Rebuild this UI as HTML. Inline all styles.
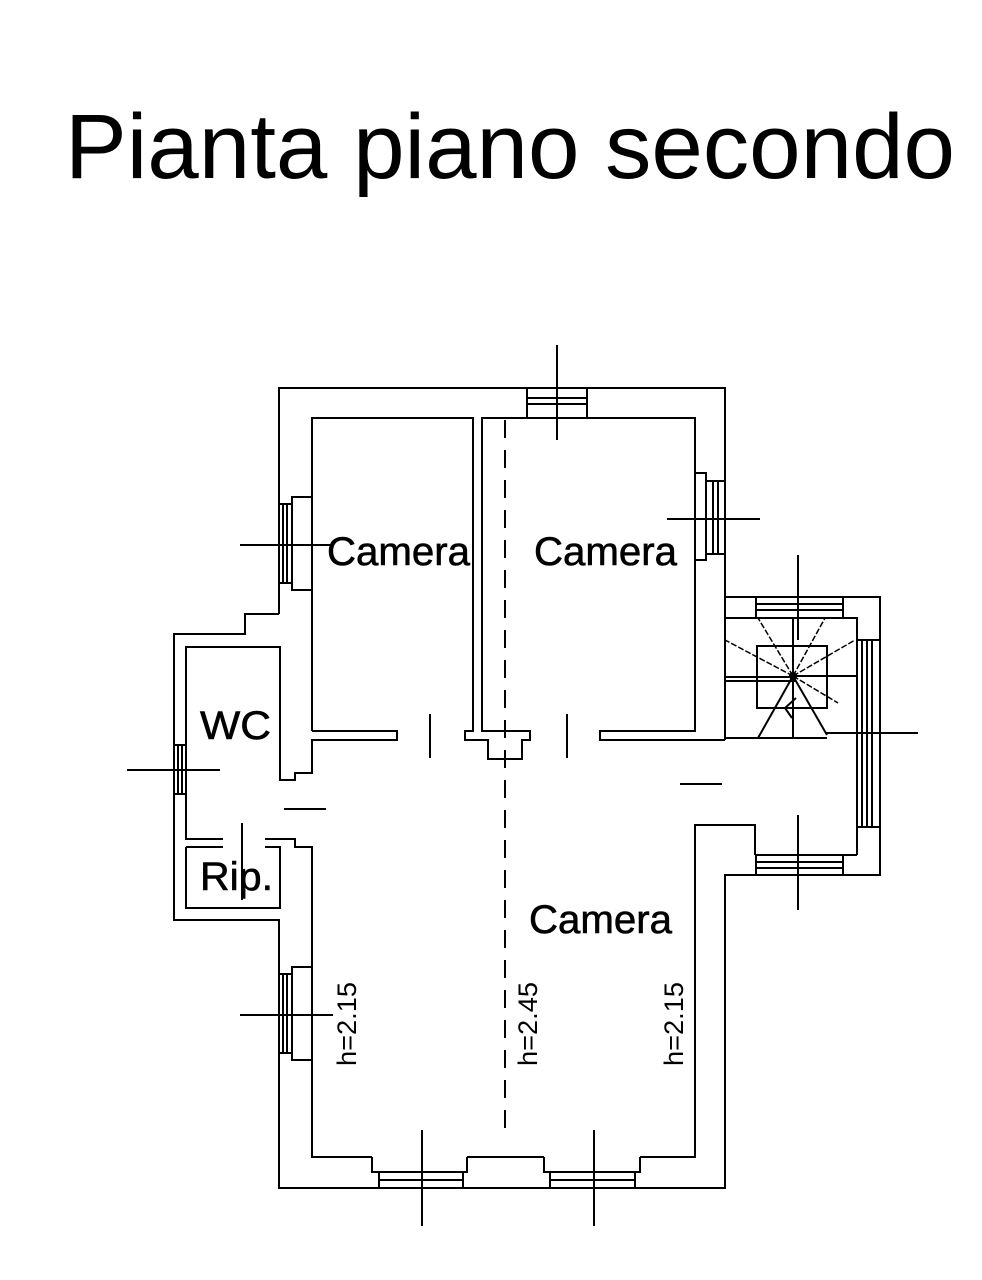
<!DOCTYPE html>
<html><head><meta charset="utf-8"><style>
html,body{margin:0;padding:0;background:#fff;}
svg{display:block;}
text{font-family:"Liberation Sans",sans-serif;fill:#000;}
</style></head><body>
<svg width="982" height="1280" viewBox="0 0 982 1280" xmlns="http://www.w3.org/2000/svg">
<text x="65" y="178" font-size="92" textLength="890" lengthAdjust="spacingAndGlyphs">Pianta piano secondo</text>
<g fill="none" stroke="#000" stroke-width="2">
<!-- outer wall -->
<polyline points="279,614 279,388 725,388 725,597 880,597 880,875 725,875 725,1188 279,1188 279,920 174,920 174,634 245,634 245,614 279,614"/>
<line x1="725" y1="597" x2="725" y2="740"/>
<!-- Camera1 -->
<polyline points="312,731 312,418 473,418 473,731 465,731 465,740 488,740 488,759 522,759 522,740 530,740 530,731 482,731 482,418 695,418 695,731 600,731 600,740 725,740"/>
<polyline points="312,731 397,731 397,740 312,740 312,773 295,773 295,780 280,780 280,647 186,647 186,839 223,839"/>
<!-- WC / Rip -->
<polyline points="265,839 295,839 295,847 312,847 312,1157 372,1157"/>
<line x1="467" y1="1157" x2="544" y2="1157"/>
<polyline points="640,1157 695,1157 695,825 755,825 755,855"/>
<polyline points="186,847 186,908 280,908 280,847 265,847"/>
<polyline points="186,847 223,847"/>
<!-- door marks -->
<line x1="430" y1="714" x2="430" y2="758"/>
<line x1="567" y1="714" x2="567" y2="758"/>
<line x1="284" y1="809" x2="326" y2="809"/>
<line x1="680" y1="784" x2="722" y2="784"/>
<line x1="242" y1="823" x2="242" y2="900"/>
<!-- windows: Camera1 left -->
<polyline points="312,497 292,497 292,590 312,590"/>
<line x1="283" y1="504" x2="283" y2="583"/><line x1="287" y1="504" x2="287" y2="583"/>
<line x1="279" y1="504" x2="292" y2="504"/><line x1="279" y1="583" x2="292" y2="583"/>
<line x1="240" y1="545" x2="330" y2="545"/>
<!-- top window -->
<rect x="527" y="388" width="60" height="30"/>
<line x1="527" y1="398" x2="587" y2="398"/><line x1="527" y1="404" x2="587" y2="404"/>
<line x1="557" y1="345" x2="557" y2="440"/>
<!-- Camera2 right window -->
<polyline points="695,473 706,473 706,560 695,560"/>
<line x1="706" y1="481" x2="725" y2="481"/><line x1="706" y1="554" x2="725" y2="554"/>
<line x1="713" y1="481" x2="713" y2="554"/><line x1="718" y1="481" x2="718" y2="554"/>
<line x1="667" y1="519" x2="760" y2="519"/>
<!-- WC window -->
<rect x="174" y="745" width="12" height="49"/>
<line x1="178" y1="745" x2="178" y2="794"/><line x1="182" y1="745" x2="182" y2="794"/>
<line x1="127" y1="770" x2="220" y2="770"/>
<!-- lower left window -->
<polyline points="312,967 292,967 292,1060 312,1060"/>
<line x1="279" y1="974" x2="292" y2="974"/><line x1="279" y1="1053" x2="292" y2="1053"/>
<line x1="283" y1="974" x2="283" y2="1053"/><line x1="287" y1="974" x2="287" y2="1053"/>
<line x1="240" y1="1015" x2="333" y2="1015"/>
<!-- bottom windows -->
<polyline points="372,1157 372,1172 467,1172 467,1157"/>
<line x1="379" y1="1172" x2="379" y2="1188"/><line x1="463" y1="1172" x2="463" y2="1188"/>
<line x1="379" y1="1180" x2="463" y2="1180"/>
<line x1="422" y1="1130" x2="422" y2="1226"/>
<polyline points="544,1157 544,1172 640,1172 640,1157"/>
<line x1="550" y1="1172" x2="550" y2="1188"/><line x1="635" y1="1172" x2="635" y2="1188"/>
<line x1="550" y1="1180" x2="635" y2="1180"/>
<line x1="594" y1="1130" x2="594" y2="1226"/>
<!-- stair top window -->
<rect x="756" y="597" width="87" height="21"/>
<line x1="756" y1="604" x2="843" y2="604"/><line x1="756" y1="610" x2="843" y2="610"/>
<line x1="798" y1="555" x2="798" y2="640"/>
<!-- stair -->
<polyline points="725,618 857,618 857,640"/>
<line x1="725" y1="677" x2="795" y2="677"/><line x1="725" y1="681" x2="795" y2="681"/>
<rect x="757" y="646" width="70" height="62"/>
<line x1="793" y1="618" x2="793" y2="738"/>
<line x1="725" y1="738" x2="827" y2="738"/>
<line x1="827" y1="733" x2="857" y2="733"/>
<line x1="793" y1="676" x2="758" y2="738"/>
<line x1="793" y1="676" x2="827" y2="735"/>
<line x1="793" y1="676" x2="857" y2="676"/>
<polyline points="796,698 785,708 792,718"/>
<g stroke-width="1.5" stroke-dasharray="6,2">
<line x1="793" y1="676" x2="758" y2="618"/>
<line x1="793" y1="676" x2="825" y2="618"/>
<line x1="793" y1="676" x2="725" y2="640"/>
<line x1="793" y1="676" x2="855" y2="640"/>
<line x1="793" y1="676" x2="838" y2="703"/>
</g>
<circle cx="793" cy="676" r="3" fill="#000"/>
<!-- right window -->
<rect x="857" y="640" width="23" height="187"/>
<line x1="862" y1="640" x2="862" y2="827"/><line x1="867" y1="640" x2="867" y2="827"/><line x1="872" y1="640" x2="872" y2="827"/>
<line x1="825" y1="733" x2="918" y2="733"/>
<line x1="857" y1="827" x2="857" y2="855"/>
<!-- bottom stair window -->
<rect x="756" y="855" width="87" height="20"/>
<line x1="756" y1="862" x2="843" y2="862"/><line x1="756" y1="868" x2="843" y2="868"/>
<line x1="843" y1="855" x2="857" y2="855"/>
<line x1="798" y1="815" x2="798" y2="910"/>
<!-- dashed center line -->
<line x1="505" y1="420" x2="505" y2="1136" stroke-dasharray="18,12"/>
</g>
<g font-size="40" stroke="#000" stroke-width="0.6">
<text x="327" y="565" textLength="143" lengthAdjust="spacingAndGlyphs">Camera</text>
<text x="534" y="565" textLength="143" lengthAdjust="spacingAndGlyphs">Camera</text>
<text x="529" y="933" textLength="143" lengthAdjust="spacingAndGlyphs">Camera</text>
<text x="200" y="739" textLength="71" lengthAdjust="spacingAndGlyphs">WC</text>
<text x="200" y="890" textLength="73" lengthAdjust="spacingAndGlyphs">Rip.</text>
</g>
<g font-size="27">
<text transform="translate(356,1066) rotate(-90)" textLength="84" lengthAdjust="spacingAndGlyphs">h=2.15</text>
<text transform="translate(537,1066) rotate(-90)" textLength="84" lengthAdjust="spacingAndGlyphs">h=2.45</text>
<text transform="translate(683,1066) rotate(-90)" textLength="84" lengthAdjust="spacingAndGlyphs">h=2.15</text>
</g>
</svg>
</body></html>
